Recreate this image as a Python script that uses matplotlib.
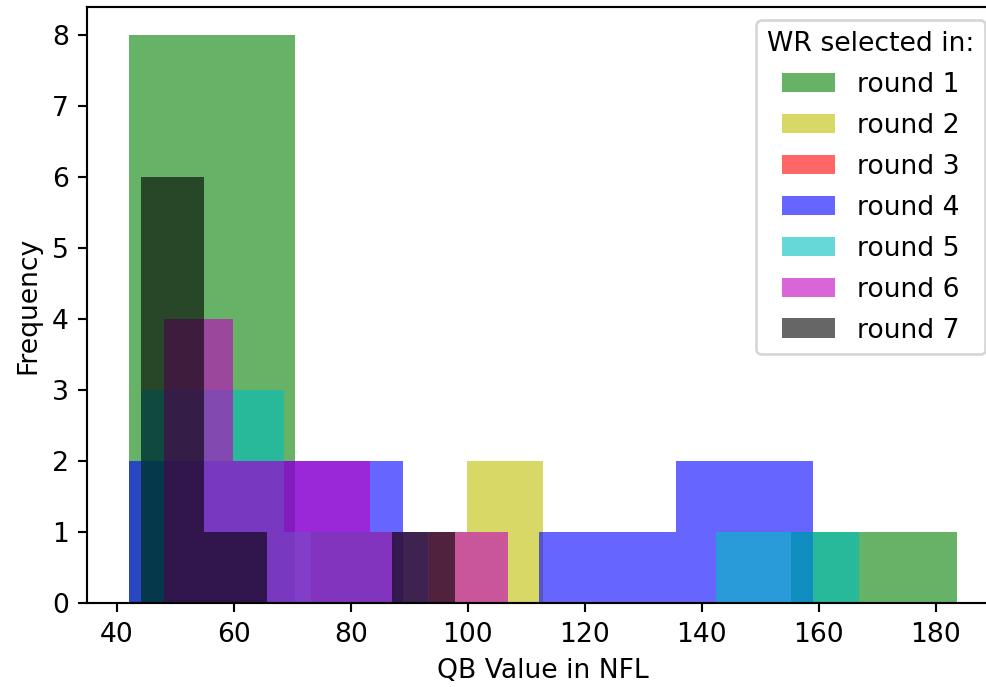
import numpy as np
import matplotlib
matplotlib.use("Agg")
import matplotlib.pyplot as plt

# Legend labels
rounds = ["round 1", "round 2", "round 3", "round 4", "round 5", "round 6", "round 7"]

# Per-round QB value ranges (min, max)
r1_range = (42.1, 183.6)
r2_range = (47.9, 112.9)
r3_range = (73.3, 87.3)
r4_range = (42.1, 159.0)
r5_range = (44.1, 166.9)
r6_range = (48.1, 106.8)
r7_range = (44.1, 97.9)

# Per-round counts in 10 equal bins over each range
r1_counts = [8, 8, 0, 0, 0, 0, 0, 0, 1, 1]
r2_counts = [0, 0, 0, 0, 0, 0, 0, 1, 2, 2]
r3_counts = [1, 1, 1, 1, 1, 1, 1, 1, 1, 1]
r4_counts = [2, 2, 2, 2, 0, 0, 1, 1, 2, 2]
r5_counts = [3, 3, 1, 1, 0, 0, 0, 0, 1, 1]
r6_counts = [4, 4, 2, 2, 2, 2, 1, 1, 1, 1]
r7_counts = [6, 6, 1, 1, 0, 0, 0, 0, 1, 1]

ranges = [r1_range, r2_range, r3_range, r4_range, r5_range, r6_range, r7_range]
counts = [r1_counts, r2_counts, r3_counts, r4_counts, r5_counts, r6_counts, r7_counts]
colors = ["g", "y", "r", "b", "c", "m", "k"]

DPI = 192
fig = plt.figure(figsize=(986 / DPI, 687 / DPI), dpi=DPI)
ax = fig.add_axes([0.08874, 0.12227, 0.92384, 0.86754])

for label, rng, cnt, col in zip(rounds, ranges, counts, colors):
    edges = np.linspace(rng[0], rng[1], len(cnt) + 1)
    ax.hist(edges[:-1], bins=edges, weights=cnt, color=col, alpha=0.6, label=label)

ax.set_xlabel("QB Value in NFL")
ax.set_ylabel("Frequency")
ax.legend(title="WR selected in:", loc="upper right", labelspacing=0.56,
          handleheight=0.75)

fig.savefig("out.png", dpi=DPI)
